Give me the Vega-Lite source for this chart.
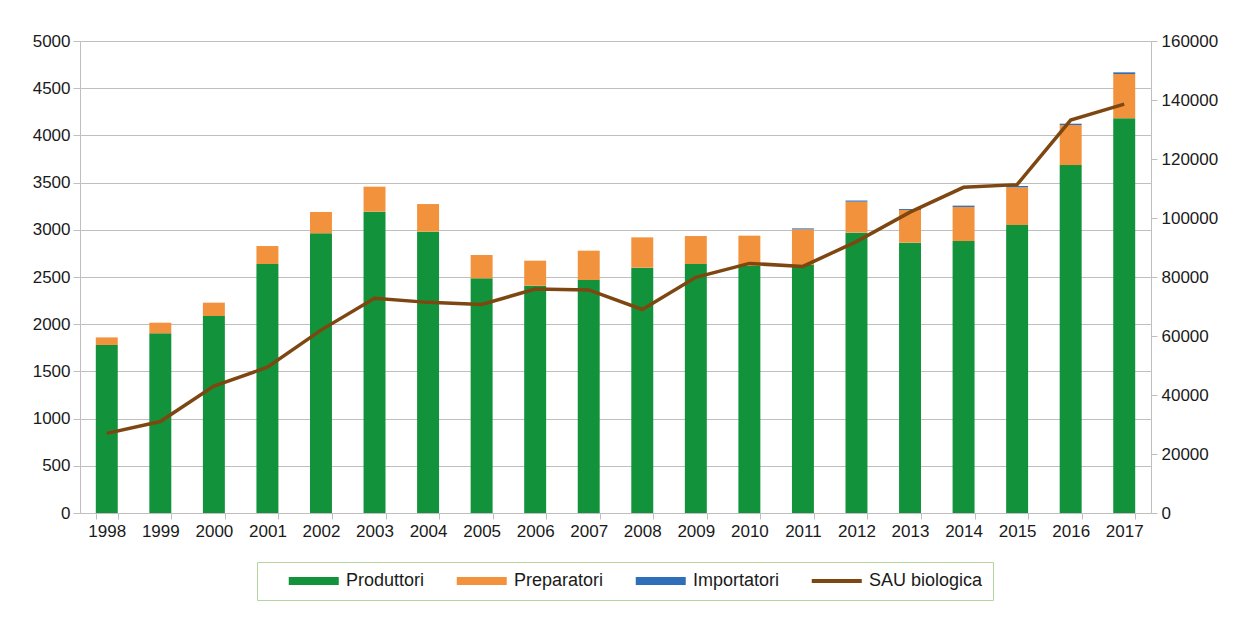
{
  "$schema": "https://vega.github.io/schema/vega-lite/v6.json",
  "width": 1071,
  "height": 472,
  "autosize": {"type": "none"},
  "padding": {"left": 80, "top": 41, "right": 94, "bottom": 106},
  "background": "white",
  "config": {
    "view": {"stroke": null},
    "font": "Liberation Sans",
    "axis": {"labelFont": "Liberation Sans", "labelFontSize": 17, "labelColor": "#1a1a1a", "domainColor": "#BFBFBF", "tickColor": "#BFBFBF", "gridColor": "#BFBFBF", "title": null}
  },
  "datasets": {
    "operatori": [
      {"year": "1998", "series": "Produttori", "value": 1780}, {"year": "1998", "series": "Preparatori", "value": 80}, {"year": "1998", "series": "Importatori", "value": 0},
      {"year": "1999", "series": "Produttori", "value": 1903}, {"year": "1999", "series": "Preparatori", "value": 113}, {"year": "1999", "series": "Importatori", "value": 0},
      {"year": "2000", "series": "Produttori", "value": 2087}, {"year": "2000", "series": "Preparatori", "value": 141}, {"year": "2000", "series": "Importatori", "value": 0},
      {"year": "2001", "series": "Produttori", "value": 2638}, {"year": "2001", "series": "Preparatori", "value": 190}, {"year": "2001", "series": "Importatori", "value": 0},
      {"year": "2002", "series": "Produttori", "value": 2963}, {"year": "2002", "series": "Preparatori", "value": 226}, {"year": "2002", "series": "Importatori", "value": 0},
      {"year": "2003", "series": "Produttori", "value": 3192}, {"year": "2003", "series": "Preparatori", "value": 265}, {"year": "2003", "series": "Importatori", "value": 0},
      {"year": "2004", "series": "Produttori", "value": 2980}, {"year": "2004", "series": "Preparatori", "value": 293}, {"year": "2004", "series": "Importatori", "value": 0},
      {"year": "2005", "series": "Produttori", "value": 2486}, {"year": "2005", "series": "Preparatori", "value": 247}, {"year": "2005", "series": "Importatori", "value": 0},
      {"year": "2006", "series": "Produttori", "value": 2408}, {"year": "2006", "series": "Preparatori", "value": 265}, {"year": "2006", "series": "Importatori", "value": 0},
      {"year": "2007", "series": "Produttori", "value": 2468}, {"year": "2007", "series": "Preparatori", "value": 311}, {"year": "2007", "series": "Importatori", "value": 0},
      {"year": "2008", "series": "Produttori", "value": 2599}, {"year": "2008", "series": "Preparatori", "value": 321}, {"year": "2008", "series": "Importatori", "value": 0},
      {"year": "2009", "series": "Produttori", "value": 2638}, {"year": "2009", "series": "Preparatori", "value": 296}, {"year": "2009", "series": "Importatori", "value": 0},
      {"year": "2010", "series": "Produttori", "value": 2617}, {"year": "2010", "series": "Preparatori", "value": 321}, {"year": "2010", "series": "Importatori", "value": 0},
      {"year": "2011", "series": "Produttori", "value": 2627}, {"year": "2011", "series": "Preparatori", "value": 378}, {"year": "2011", "series": "Importatori", "value": 10},
      {"year": "2012", "series": "Produttori", "value": 2970}, {"year": "2012", "series": "Preparatori", "value": 328}, {"year": "2012", "series": "Importatori", "value": 12},
      {"year": "2013", "series": "Produttori", "value": 2864}, {"year": "2013", "series": "Preparatori", "value": 346}, {"year": "2013", "series": "Importatori", "value": 10},
      {"year": "2014", "series": "Produttori", "value": 2881}, {"year": "2014", "series": "Preparatori", "value": 361}, {"year": "2014", "series": "Importatori", "value": 14},
      {"year": "2015", "series": "Produttori", "value": 3051}, {"year": "2015", "series": "Preparatori", "value": 399}, {"year": "2015", "series": "Importatori", "value": 14},
      {"year": "2016", "series": "Produttori", "value": 3686}, {"year": "2016", "series": "Preparatori", "value": 424}, {"year": "2016", "series": "Importatori", "value": 14},
      {"year": "2017", "series": "Produttori", "value": 4181}, {"year": "2017", "series": "Preparatori", "value": 469}, {"year": "2017", "series": "Importatori", "value": 18}
    ],
    "sau": [
      {"year": "1998", "sau": 27000}, {"year": "1999", "sau": 31000}, {"year": "2000", "sau": 43000}, {"year": "2001", "sau": 49400},
      {"year": "2002", "sau": 62000}, {"year": "2003", "sau": 72800}, {"year": "2004", "sau": 71400}, {"year": "2005", "sau": 70700},
      {"year": "2006", "sau": 75900}, {"year": "2007", "sau": 75600}, {"year": "2008", "sau": 69000}, {"year": "2009", "sau": 79900},
      {"year": "2010", "sau": 84600}, {"year": "2011", "sau": 83600}, {"year": "2012", "sau": 92000}, {"year": "2013", "sau": 102000},
      {"year": "2014", "sau": 110400}, {"year": "2015", "sau": 111300}, {"year": "2016", "sau": 133200}, {"year": "2017", "sau": 138600}
    ]
  },
  "encoding": {
    "x": {
      "field": "year", "type": "ordinal",
      "scale": {"paddingInner": 0.59, "paddingOuter": 0.295},
      "axis": {"labelAngle": 0, "tickBand": "extent", "tickSize": 6, "labelPadding": 4, "grid": false, "domain": true}
    }
  },
  "layer": [
    {
      "data": {"name": "operatori"},
      "mark": {"type": "bar"},
      "encoding": {
        "y": {
          "field": "value", "type": "quantitative", "stack": "zero",
          "scale": {"domain": [0, 5000], "nice": false},
          "axis": {"values": [0, 500, 1000, 1500, 2000, 2500, 3000, 3500, 4000, 4500, 5000], "tickSize": 7, "labelPadding": 3, "grid": true, "domain": true, "format": "d"}
        },
        "color": {
          "field": "series", "type": "nominal",
          "scale": {"domain": ["Produttori", "Preparatori", "Importatori", "SAU biologica"], "range": ["#12923A", "#F3923D", "#2F6FBA", "#7E4711"]},
          "legend": {
            "orient": "none", "legendX": 177, "legendY": 521, "direction": "horizontal",
            "title": " ", "titleOrient": "left", "titlePadding": 19,
            "padding": 10, "strokeColor": "#B4D69A", "fillColor": "white",
            "labelFont": "Liberation Sans", "labelFontSize": 18, "labelColor": "#1a1a1a",
            "symbolType": "M-1,-0.64H7V0.64H-1Z", "symbolSize": 156.25, "symbolStrokeWidth": 0, "symbolOpacity": 1,
            "labelOffset": 42, "columnPadding": 29,
            "encode": {"symbols": {"update": {"shape": [{"test": "datum.value === 'SAU biologica'", "value": "M-1,-0.32H7V0.32H-1Z"}, {"value": "M-1,-0.64H7V0.64H-1Z"}]}}}
          }
        },
        "order": {"field": "series", "sort": "descending"}
      }
    },
    {
      "data": {"name": "sau"},
      "mark": {"type": "line", "strokeWidth": 3.5},
      "encoding": {
        "y": {
          "field": "sau", "type": "quantitative",
          "scale": {"domain": [0, 160000], "nice": false},
          "axis": {"orient": "right", "values": [0, 20000, 40000, 60000, 80000, 100000, 120000, 140000, 160000], "tickSize": 6, "labelPadding": 4, "grid": false, "domain": true, "format": "d"}
        },
        "color": {"datum": "SAU biologica", "type": "nominal", "legend": null}
      }
    }
  ],
  "resolve": {"scale": {"y": "independent"}}
}
